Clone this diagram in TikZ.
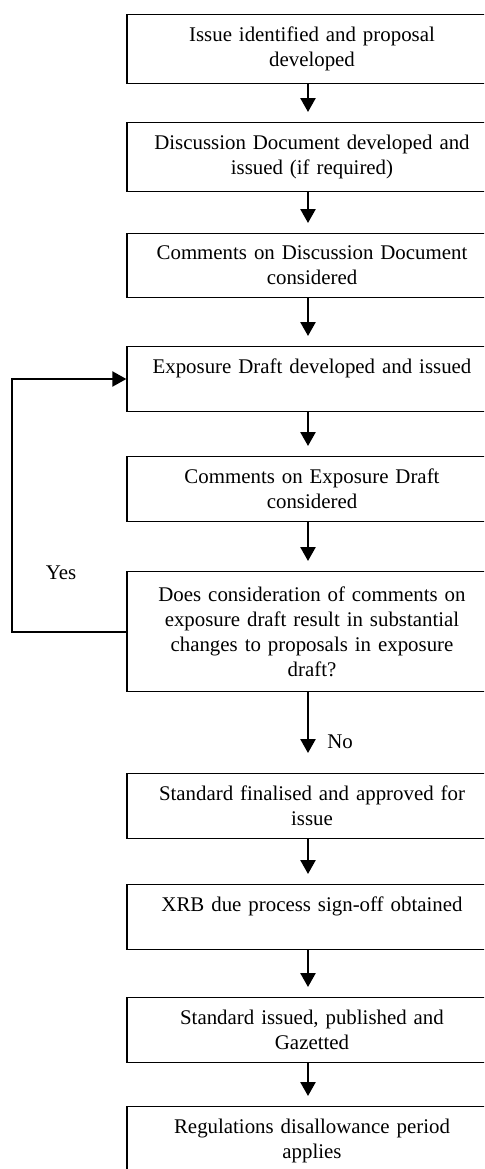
\documentclass[tikz,border=0pt]{standalone}
\usepackage{fontspec}
\setmainfont{Liberation Serif}
\usetikzlibrary{arrows.meta}

\begin{document}
\begin{tikzpicture}[myboxstyle/.style={draw=black, line width=0.7pt, anchor=north, text width=194pt, inner xsep=9.4pt, inner ysep=7.2pt, align=center, font=\fontsize{12}{14.4}\selectfont},
  myarrowstyle/.style={line width=1.4pt, -{Triangle[width=8.6pt,length=8pt]}, shorten >=10*0.575pt},
  mylabelstyle/.style={font=\fontsize{12}{14.4}\selectfont},
  x=0.575pt, y=-0.575pt]
  \useasboundingbox (0,0) rectangle (484,1169);
  \clip (0,0) rectangle (484,1169);

  \node[myboxstyle] (identified) at (312,14) {Issue identified and proposal\\developed};
  \node[myboxstyle] (discussion) at (312,122) {Discussion Document developed and\\issued (if required)};
  \node[myboxstyle] (discomments) at (312,233) {Comments on Discussion Document\\considered};
  \node[myboxstyle] (exposure) at (312,346) {Exposure Draft developed and issued\\~};
  \node[myboxstyle] (expcomments) at (312,456) {Comments on Exposure Draft\\considered};
  \node[myboxstyle, minimum height=120*0.575pt] (question) at (312,571) {Does consideration of comments on\\exposure draft result in substantial\\changes to proposals in exposure\\draft?};
  \node[myboxstyle] (finalised) at (312,773) {Standard finalised and approved for\\issue};
  \node[myboxstyle] (signoff) at (312,884) {XRB due process sign-off obtained\\~};
  \node[myboxstyle] (gazetted) at (312,997) {Standard issued, published and\\Gazetted};
  \node[myboxstyle] (disallowance) at (312,1106) {Regulations disallowance period\\applies};

  \draw[myarrowstyle] ([xshift=-4*0.575pt]identified.south) -- ([xshift=-4*0.575pt]discussion.north);
  \draw[myarrowstyle] ([xshift=-4*0.575pt]discussion.south) -- ([xshift=-4*0.575pt]discomments.north);
  \draw[myarrowstyle] ([xshift=-4*0.575pt]discomments.south) -- ([xshift=-4*0.575pt]exposure.north);
  \draw[myarrowstyle] ([xshift=-4*0.575pt]exposure.south) -- ([xshift=-4*0.575pt]expcomments.north);
  \draw[myarrowstyle] ([xshift=-4*0.575pt]expcomments.south) -- ([xshift=-4*0.575pt]question.north);
  \draw[myarrowstyle, shorten >=20*0.575pt] ([xshift=-4*0.575pt]question.south) -- ([xshift=-4*0.575pt]finalised.north);
  \draw[myarrowstyle] ([xshift=-4*0.575pt]finalised.south) -- ([xshift=-4*0.575pt]signoff.north);
  \draw[myarrowstyle] ([xshift=-4*0.575pt]signoff.south) -- ([xshift=-4*0.575pt]gazetted.north);
  \draw[myarrowstyle] ([xshift=-4*0.575pt]gazetted.south) -- ([xshift=-4*0.575pt]disallowance.north);

  \coordinate (loopleft) at (12,0);
  \draw[myarrowstyle, line width=1.2pt, shorten >=0pt] (question.west) -- (question.west -| loopleft) |- (exposure.west);

  \node[mylabelstyle] (yes) at (61,573) {Yes};
  \node[mylabelstyle] (no) at (340,742) {No};
\end{tikzpicture}
\end{document}
